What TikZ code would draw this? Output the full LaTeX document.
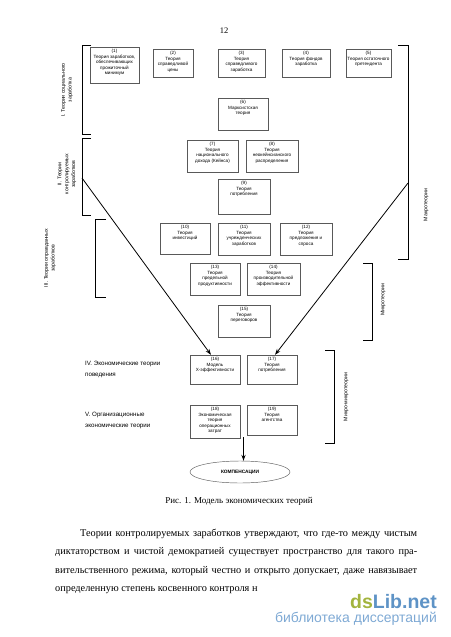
\documentclass[tikz,border=0pt]{standalone}
\usepackage{fontspec}
\setmainfont{Liberation Serif}
\newfontfamily\arial{Liberation Sans}
\usetikzlibrary{arrows.meta,shapes.geometric,calc}
\definecolor{wmgreen}{HTML}{A3B43E}
\definecolor{wmblue}{HTML}{5E93C6}
\definecolor{wmlight}{HTML}{7EA9D4}
\newcommand\bx[6]{%
  \node[bx, minimum width={(#4-#2)*1pt}, minimum height={(#5-#3)*1pt}] (#1) at ({(#2+#4)/2},{(#3+#5)/2}) {};
  \node[bxt, anchor=north] (#1t) at (#1.north) {#6};}
\begin{document}
\begin{tikzpicture}[x=1pt,y=-1pt,
  bx/.style={draw=black!65, line width=0.45pt, inner sep=0pt},
  bxt/.style={font=\arial\fontsize{4.6}{5.6}\selectfont, align=center, inner sep=0pt, yshift=-2.2pt},
  brk/.style={line width=0.9pt},
  rlbl/.style={font=\arial\fontsize{5.2}{6.8}\selectfont, align=center, rotate=90, inner sep=0pt},
  hlbl/.style={font=\arial\fontsize{6.2}{10.5}\selectfont, align=left, inner sep=0pt, anchor=north west},
  arr/.style={line width=0.8pt, -{Stealth[length=6pt,width=4.2pt]}},
  body/.style={font=\fontsize{10.3}{12}\selectfont, inner sep=0pt, anchor=base west},
]
\useasboundingbox (0,0) rectangle (450,637);

% page number
\node[font=\fontsize{8.5}{10}\selectfont, inner sep=0pt, anchor=base] (pg) at (224,33) {12};

% boxes
\bx{n1}{90}{47}{139}{83}{(1)\\Теория заработков,\\обеспечивающих\\прожиточный\\минимум}
\bx{n2}{153}{49}{193}{77}{(2)\\Теория\\справедливой\\цены}
\bx{n3}{218}{49}{265}{77}{(3)\\Теория\\справедливого\\заработка}
\bx{n4}{282}{49}{330}{77}{(4)\\Теория фондов\\заработка}
\bx{n5}{346}{49}{391}{77}{(5)\\Теория остаточного\\претендента}
\bx{n6}{218}{98}{268}{130}{(6)\\Марксистская\\теория}
\bx{n7}{187}{140}{238}{172}{(7)\\Теория\\национального\\дохода (Кейнса)}
\bx{n8}{246}{140}{298}{172}{(8)\\Теория\\неокейнсианского\\распределения}
\bx{n9}{218}{179}{270}{214}{(9)\\Теория\\потребления}
\bx{n10}{160}{223}{210}{254}{(10)\\Теория\\инвестиций}
\bx{n11}{218}{223}{270}{255}{(11)\\Теория\\учрежденческих\\заработков}
\bx{n12}{280}{223}{332}{255}{(12)\\Теория\\предложения и\\спроса}
\bx{n13}{190}{263}{240}{295}{(13)\\Теория\\предельной\\продуктивности}
\bx{n14}{247}{263}{300}{295}{(14)\\Теория\\производительной\\эффективности}
\bx{n15}{218}{305}{270}{337}{(15)\\Теория\\переговоров}
\bx{n16}{190}{355}{240}{384}{(16)\\Модель\\X-эффективности}
\bx{n17}{247}{355}{297}{384}{(17)\\Теория\\потребления}
\bx{n18}{190}{405}{240}{438}{(18)\\Экономическая\\теория\\операционных\\затрат}
\bx{n19}{247}{405}{297}{435}{(19)\\Теория\\агентства}

% ellipse
\node[ellipse, draw=black!65, line width=0.45pt, minimum width=100pt, minimum height=22pt, inner sep=0pt,
      font=\arial\bfseries\fontsize{4.8}{6}\selectfont] (komp) at (240,472) {КОМПЕНСАЦИИ};

% brackets left
\draw[brk] (91,45) -- (82,45) -- (82,134) -- (91,134);
\draw[brk] (91,138) -- (82,138) -- (82,215) -- (91,215);
\draw[brk] (106,219) -- (95,219) -- (95,297) -- (106,297);
% brackets right
\draw[brk] (398,45) -- (408,45) -- (408,259) -- (398,259);
\draw[brk] (363,263) -- (372,263) -- (372,340) -- (363,340);
\draw[brk] (325,350) -- (334,350) -- (334,443) -- (325,443);

% bracket labels
\node[rlbl] (lI) at (67,90) {I. Теории социального\\заработка};
\node[rlbl] (lII) at (67,174) {II. Теории\\контролируемых\\заработков};
\node[rlbl] (lIII) at (50,258) {III. Теории оправданных\\заработков};
\node[rlbl] (lMa) at (426,205) {Макротеории};
\node[rlbl] (lMi) at (383,300) {Микротеории};
\node[rlbl] (lMm) at (346,397) {Микро-микротеории};

\node[hlbl] (lIV) at (85,361) {IV. Экономические теории\\поведения};
\node[hlbl] (lV) at (85,412) {V. Организационные\\экономические теории};

% connectors
\coordinate (pII) at (82,178);
\coordinate (pMa) at (408,183);
\draw[arr] (pII) -- ($(n16.north west)!0.42!(n16.north east)$);
\draw[arr] (pMa) -- ($(n17.north west)!0.56!(n17.north east)$);
\coordinate (p18) at (243.5,437);
\draw[arr] (p18) -- (p18 |- komp.north);

% caption
\node[font=\fontsize{9}{11}\selectfont, inner sep=0pt, anchor=base] (cap) at (239,503) {Рис. 1. Модель экономических теорий};

% body text
\node[body] (t1) at (80,536) {\makebox[337pt][s]{Теории контролируемых заработков утверждают, что где-то между чистым}};
\node[body] (t2) at (55,554.5) {\makebox[362pt][s]{диктаторством и чистой демократией существует пространство для такого пра-}};
\node[body] (t3) at (55,573) {\makebox[362pt][s]{вительственного режима, который честно и открыто допускает, даже навязывает}};
\node[body] (t4) at (55,591.5) {определенную степень косвенного контроля н};

% watermark
\node[font=\arial\bfseries\fontsize{19.5}{22}\selectfont, inner sep=0pt, anchor=base east] (wm1) at (437,608) {\textcolor{wmgreen}{ds}\textcolor{wmblue}{Lib.net}};
\node[font=\arial\fontsize{14}{16}\selectfont, text=wmlight, inner sep=0pt, anchor=base east] (wm2) at (437,622) {библиотека диссертаций};
\end{tikzpicture}
\end{document}
